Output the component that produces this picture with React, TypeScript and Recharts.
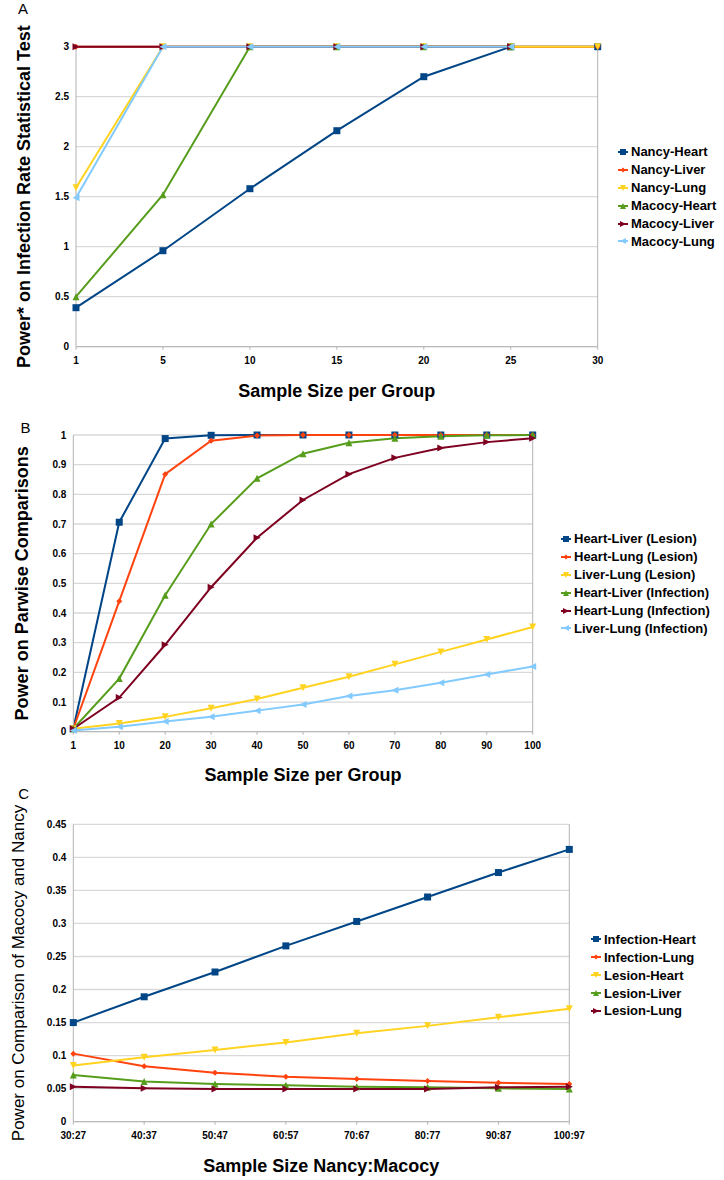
import React from 'react'
import { LineChart, Line, XAxis, YAxis, CartesianGrid, Legend, ReferenceLine } from 'recharts'

const FONT = '"Liberation Sans", Arial, sans-serif'
const AXIS_GRAY = '#b3b3b3'
const GRID_GRAY = '#d9d9d9'

// LibreOffice default series colours
const BLUE = '#004586'
const ORANGE = '#ff420e'
const YELLOW = '#ffd320'
const GREEN = '#579d1c'
const DARKRED = '#7e0021'
const LIGHTBLUE = '#83caff'

// Panel A - infection rate test
const sizeA = ['1', '5', '10', '15', '20', '25', '30']
const nancyHeart = [0.39, 0.96, 1.58, 2.16, 2.7, 3, 3]
const nancyLiver = [3, 3, 3, 3, 3, 3, 3]
const nancyLung = [1.59, 3, 3, 3, 3, 3, 3]
const macocyHeart = [0.5, 1.52, 3, 3, 3, 3, null]
const macocyLiver = [3, 3, 3, 3, 3, 3, null]
const macocyLung = [1.49, 3, 3, 3, 3, 3, null]
const ticksA = [0, 0.5, 1, 1.5, 2, 2.5, 3]

// Panel B - pairwise comparisons
const sizeB = ['1', '10', '20', '30', '40', '50', '60', '70', '80', '90', '100']
const heartLiverLesion = [0.01, 0.706, 0.988, 0.999, 1, 1, 1, 1, 1, 1, 1]
const heartLungLesion = [0.01, 0.44, 0.868, 0.981, 0.998, 1, 1, 1, 1, 1, 1]
const liverLungLesion = [0.01, 0.028, 0.05, 0.079, 0.11, 0.148, 0.185, 0.227, 0.269, 0.311, 0.353]
const heartLiverInfection = [0.01, 0.179, 0.46, 0.7, 0.854, 0.937, 0.974, 0.989, 0.996, 0.999, 1]
const heartLungInfection = [0.01, 0.115, 0.293, 0.487, 0.654, 0.781, 0.868, 0.923, 0.956, 0.976, 0.989]
const liverLungInfection = [0.004, 0.017, 0.034, 0.05, 0.071, 0.092, 0.12, 0.14, 0.165, 0.193, 0.22]
const ticksB = [0, 0.1, 0.2, 0.3, 0.4, 0.5, 0.6, 0.7, 0.8, 0.9, 1]

// Panel C - Macocy vs Nancy
const ratioC = ['30:27', '40:37', '50:47', '60:57', '70:67', '80:77', '90:87', '100:97']
const infectionHeart = [0.15, 0.189, 0.2265, 0.266, 0.303, 0.34, 0.377, 0.412]
const infectionLung = [0.103, 0.084, 0.074, 0.068, 0.0646, 0.0616, 0.059, 0.057]
const lesionHeart = [0.085, 0.0974, 0.1085, 0.12, 0.1337, 0.145, 0.158, 0.171]
const lesionLiver = [0.0705, 0.061, 0.057, 0.055, 0.053, 0.052, 0.0505, 0.0495]
const lesionLung = [0.053, 0.0505, 0.0495, 0.0495, 0.0495, 0.0495, 0.052, 0.053]
const ticksC = [0, 0.05, 0.1, 0.15, 0.2, 0.25, 0.3, 0.35, 0.4, 0.45]

type Shape = 'square' | 'diamond' | 'down' | 'up' | 'right' | 'left'

interface SeriesDef {
  key: string
  name: string
  color: string
  shape: Shape
  values: (number | null)[]
}

const seriesA: SeriesDef[] = [
  { key: 'nancyHeart', name: 'Nancy-Heart', color: BLUE, shape: 'square', values: nancyHeart },
  { key: 'nancyLiver', name: 'Nancy-Liver', color: ORANGE, shape: 'diamond', values: nancyLiver },
  { key: 'nancyLung', name: 'Nancy-Lung', color: YELLOW, shape: 'down', values: nancyLung },
  { key: 'macocyHeart', name: 'Macocy-Heart', color: GREEN, shape: 'up', values: macocyHeart },
  { key: 'macocyLiver', name: 'Macocy-Liver', color: DARKRED, shape: 'right', values: macocyLiver },
  { key: 'macocyLung', name: 'Macocy-Lung', color: LIGHTBLUE, shape: 'left', values: macocyLung },
]

const seriesB: SeriesDef[] = [
  { key: 'hlLes', name: 'Heart-Liver (Lesion)', color: BLUE, shape: 'square', values: heartLiverLesion },
  { key: 'hluLes', name: 'Heart-Lung (Lesion)', color: ORANGE, shape: 'diamond', values: heartLungLesion },
  { key: 'lluLes', name: 'Liver-Lung (Lesion)', color: YELLOW, shape: 'down', values: liverLungLesion },
  { key: 'hlInf', name: 'Heart-Liver (Infection)', color: GREEN, shape: 'up', values: heartLiverInfection },
  { key: 'hluInf', name: 'Heart-Lung (Infection)', color: DARKRED, shape: 'right', values: heartLungInfection },
  { key: 'lluInf', name: 'Liver-Lung (Infection)', color: LIGHTBLUE, shape: 'left', values: liverLungInfection },
]

const seriesC: SeriesDef[] = [
  { key: 'infHeart', name: 'Infection-Heart', color: BLUE, shape: 'square', values: infectionHeart },
  { key: 'infLung', name: 'Infection-Lung', color: ORANGE, shape: 'diamond', values: infectionLung },
  { key: 'lesHeart', name: 'Lesion-Heart', color: YELLOW, shape: 'down', values: lesionHeart },
  { key: 'lesLiver', name: 'Lesion-Liver', color: GREEN, shape: 'up', values: lesionLiver },
  { key: 'lesLung', name: 'Lesion-Lung', color: DARKRED, shape: 'right', values: lesionLung },
]

const buildRows = (cats: string[], series: SeriesDef[]) =>
  cats.map((x, i) => {
    const row: Record<string, any> = { x }
    series.forEach((s) => {
      row[s.key] = s.values[i]
    })
    return row
  })

function markerPath(shape: Shape, cx: number, cy: number, s: number) {
  const h = s / 2
  switch (shape) {
    case 'square':
      return `M${cx - h},${cy - h}h${s}v${s}h${-s}Z`
    case 'diamond':
      return `M${cx},${cy - h}L${cx + h},${cy}L${cx},${cy + h}L${cx - h},${cy}Z`
    case 'down':
      return `M${cx - h},${cy - h}L${cx + h},${cy - h}L${cx},${cy + h}Z`
    case 'up':
      return `M${cx},${cy - h}L${cx + h},${cy + h}L${cx - h},${cy + h}Z`
    case 'right':
      return `M${cx - h},${cy - h}L${cx + h},${cy}L${cx - h},${cy + h}Z`
    default:
      return `M${cx + h},${cy - h}L${cx - h},${cy}L${cx + h},${cy + h}Z`
  }
}

const markerSize = (shape: Shape) => (shape === 'diamond' ? 6 : 7)

const makeDot = (shape: Shape, color: string) => (props: any) => {
  const { cx, cy, index } = props
  if (cx == null || cy == null || props.value == null) return <g key={`n-${index}`} />
  return <path key={`${shape}-${index}`} d={markerPath(shape, cx, cy, markerSize(shape))} fill={color} />
}

const legendContent = (series: SeriesDef[]) => () => (
  <div style={{ fontFamily: FONT, fontSize: 13, fontWeight: 'bold', color: '#000' }}>
    {series.map((s) => (
      <div key={s.key} style={{ display: 'flex', alignItems: 'center', height: 17.9, whiteSpace: 'nowrap' }}>
        <svg width={12} height={12} style={{ marginRight: 2 }}>
          <line x1={1} y1={6} x2={11} y2={6} stroke={s.color} strokeWidth={2} />
          <path d={markerPath(s.shape, 6, 6, s.shape === 'diamond' ? 5 : 6)} fill={s.color} />
        </svg>
        <span>{s.name}</span>
      </div>
    ))}
  </div>
)

interface PanelProps {
  top: number
  height: number
  cats: string[]
  series: SeriesDef[]
  ticks: number[]
  marginTop: number
  plotRight: number
  xHeight: number
  yWidth: number
  xTitle: string
  xTitleOffset: number
  yTitle: string
  yTitleOffset: number
  yTitleBold: boolean
  yTitleSize: number
  legendLeft: number
  legendTop: number
  letter: string
  letterLeft: number
  letterTop: number
}

function Panel(p: PanelProps) {
  const rows = buildRows(p.cats, p.series)
  const tickStyle = { fontSize: 10, fontWeight: 'bold', fill: '#000', fontFamily: FONT }
  return (
    <div style={{ position: 'absolute', left: 0, top: p.top, width: 724, height: p.height }}>
      <LineChart
        width={724}
        height={p.height}
        data={rows}
        margin={{ top: p.marginTop, right: 724 - p.plotRight, left: 0, bottom: 0 }}
      >
        <CartesianGrid vertical={false} stroke={GRID_GRAY} strokeWidth={1.3} />
        <XAxis
          dataKey="x"
          interval={0}
          height={p.xHeight}
          tickSize={3}
          tickMargin={7}
          axisLine={{ stroke: AXIS_GRAY }}
          tickLine={{ stroke: AXIS_GRAY }}
          tick={tickStyle}
          label={{
            value: p.xTitle,
            position: 'insideBottom',
            offset: p.xTitleOffset,
            style: { fontSize: 18, fontWeight: 'bold', fill: '#000', fontFamily: FONT },
          }}
        />
        <YAxis
          width={p.yWidth}
          domain={[p.ticks[0], p.ticks[p.ticks.length - 1]]}
          ticks={p.ticks}
          interval={0}
          tickLine={false}
          tickSize={0}
          tickMargin={7}
          axisLine={{ stroke: AXIS_GRAY }}
          tick={tickStyle}
          label={{
            value: p.yTitle,
            angle: -90,
            position: 'insideLeft',
            offset: p.yTitleOffset,
            style: {
              textAnchor: 'middle',
              fontSize: p.yTitleSize,
              fontWeight: p.yTitleBold ? 'bold' : 'normal',
              fill: '#000',
              fontFamily: FONT,
            },
          }}
        />
        <ReferenceLine x={p.cats[p.cats.length - 1]} stroke={AXIS_GRAY} />
        <Legend
          layout="vertical"
          align="center"
          verticalAlign="middle"
          wrapperStyle={{ left: p.legendLeft, top: p.legendTop, width: 'auto' }}
          content={legendContent(p.series)}
        />
        {p.series.map((s) => (
          <Line
            key={s.key}
            dataKey={s.key}
            name={s.name}
            type="linear"
            stroke={s.color}
            strokeWidth={2}
            dot={makeDot(s.shape, s.color)}
            activeDot={false}
            isAnimationActive={false}
          />
        ))}
      </LineChart>
      <div
        style={{
          position: 'absolute',
          left: p.letterLeft,
          top: p.letterTop,
          fontFamily: FONT,
          fontSize: 15,
          lineHeight: 1,
          color: '#000',
        }}
      >
        {p.letter}
      </div>
    </div>
  )
}

export default function App() {
  return (
    <div style={{ position: 'absolute', left: 0, top: 0, width: 724, height: 1180, background: '#fff' }}>
      <Panel
        top={0}
        height={410}
        cats={sizeA}
        series={seriesA}
        ticks={ticksA}
        marginTop={46.7}
        plotRight={597.7}
        xHeight={63.3}
        yWidth={76}
        xTitle="Sample Size per Group"
        xTitleOffset={13.5}
        yTitle="Power* on Infection Rate Statistical Test"
        yTitleOffset={24}
        yTitleBold
        yTitleSize={18}
        legendLeft={617}
        legendTop={143}
        letter="A"
        letterLeft={18}
        letterTop={1.3}
      />
      <Panel
        top={410}
        height={380}
        cats={sizeB}
        series={seriesB}
        ticks={ticksB}
        marginTop={25}
        plotRight={532.7}
        xHeight={58.3}
        yWidth={73.3}
        xTitle="Sample Size per Group"
        xTitleOffset={9.5}
        yTitle="Power on Parwise Comparisons"
        yTitleOffset={21.5}
        yTitleBold
        yTitleSize={18}
        legendLeft={560}
        legendTop={120}
        letter="B"
        letterLeft={20.5}
        letterTop={10}
      />
      <Panel
        top={790}
        height={390}
        cats={ratioC}
        series={seriesC}
        ticks={ticksC}
        marginTop={34.3}
        plotRight={569.3}
        xHeight={58.3}
        yWidth={73.3}
        xTitle="Sample Size Nancy:Macocy"
        xTitleOffset={8.5}
        yTitle="Power on Comparison of Macocy and Nancy"
        yTitleOffset={18}
        yTitleBold={false}
        yTitleSize={17}
        legendLeft={590}
        legendTop={140.4}
        letter="C"
        letterLeft={18.3}
        letterTop={-4}
      />
    </div>
  )
}
